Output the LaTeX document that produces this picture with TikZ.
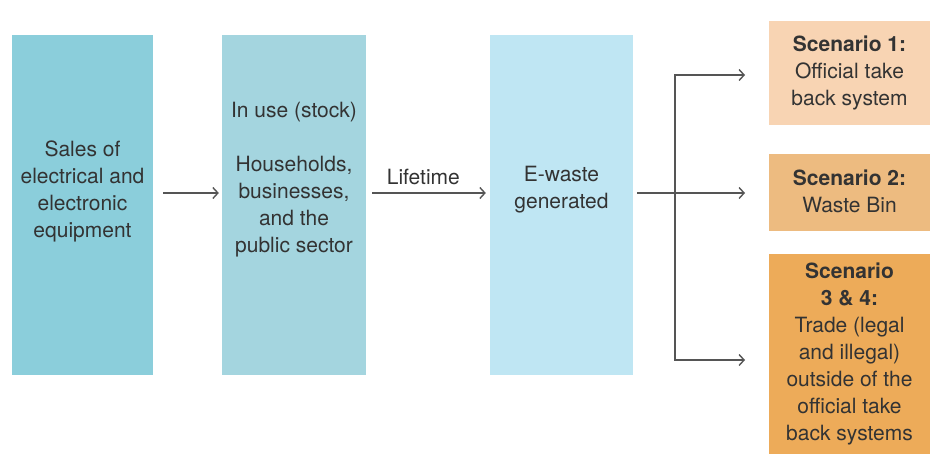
\documentclass[tikz,border=0pt]{standalone}
\usepackage{fontspec}
\setmainfont{TeX Gyre Heros}
\usetikzlibrary{arrows.meta}
\definecolor{salescol}{HTML}{8BCEDB}
\definecolor{stockcol}{HTML}{A4D5DF}
\definecolor{wastecol}{HTML}{BFE6F3}
\definecolor{scenAcol}{HTML}{F8D4B3}
\definecolor{scenBcol}{HTML}{EDBB80}
\definecolor{scenCcol}{HTML}{EDAB59}
\definecolor{arrowcol}{HTML}{555555}
\definecolor{textcol}{HTML}{333333}
\begin{document}
\begin{tikzpicture}[x=1pt,y=-1pt,
  box/.style={inner sep=0pt, draw=none},
  txt/.style={align=center, text=textcol, inner sep=0pt,
    font=\fontsize{21}{27}\selectfont},
  flow/.style={draw=arrowcol, line width=1.4pt,
    -{Straight Barb[length=5pt,width=11pt,line width=1.4pt]}}]
\useasboundingbox (0,0) rectangle (943,469);

% main boxes
\node[box, fill=salescol, minimum width=141pt, minimum height=340pt] (sales) at (82.5,205) {};
\node[box, fill=stockcol, minimum width=144pt, minimum height=340pt] (stock) at (294,205) {};
\node[box, fill=wastecol, minimum width=143pt, minimum height=340pt] (ewaste) at (561.5,205) {};

\node[txt] (salestxt) at (82.5,191) {Sales of\\electrical and\\electronic\\equipment};
\node[txt] (stocktxt) at (294,180) {In use (stock)\\[27pt]Households,\\businesses,\\and the\\public sector};
\node[txt] (ewastetxt) at (561.5,190) {E-waste\\generated};

% scenario boxes
\node[box, fill=scenAcol, minimum width=161pt, minimum height=104pt] (scenA) at (849.5,73) {};
\node[box, fill=scenBcol, minimum width=161pt, minimum height=77pt] (scenB) at (849.5,192.5) {};
\node[box, fill=scenCcol, minimum width=161pt, minimum height=200pt] (scenC) at (849.5,354) {};

\node[txt] (scenAtxt) at (scenA.center) {\textbf{Scenario 1:}\\Official take\\back system};
\node[txt] (scenBtxt) at (849.5,191) {\textbf{Scenario 2:}\\Waste Bin};
\node[txt] (scenCtxt) at (scenC.center) {\textbf{Scenario}\\\textbf{3 \& 4:}\\Trade (legal\\and illegal)\\outside of the\\official take\\back systems};

% connectors
\coordinate (axis) at (0,193);
\coordinate (split) at (675,193);
\coordinate (inA) at (745,75);
\coordinate (inB) at (745,193);
\coordinate (inC) at (745,360);

\draw[flow] ([xshift=10pt]sales.east |- axis) -- ([xshift=-3pt]stock.west |- axis);
\draw[flow] ([xshift=6pt]stock.east |- axis) -- node[txt, above=7pt, pos=0.45] (lifetime) {Lifetime} ([xshift=-4pt]ewaste.west |- axis);
\draw[flow] ([xshift=4pt]ewaste.east |- axis) -- (inB);
\draw[flow] (split) |- (inA);
\draw[flow] (split) |- (inC);
\end{tikzpicture}
\end{document}
